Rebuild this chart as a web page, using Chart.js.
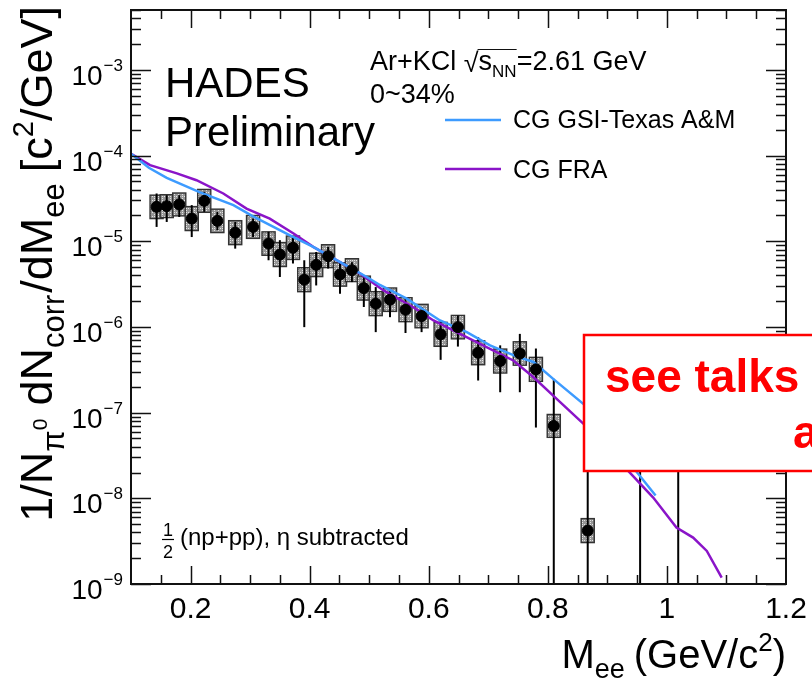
<!DOCTYPE html>
<html>
<head>
<meta charset="utf-8">
<script src="https://cdn.jsdelivr.net/npm/chart.js@4.4.1/dist/chart.umd.min.js"></script>
<style>
  html, body { margin: 0; padding: 0; background: #fff; }
  #wrap { width: 812px; height: 682px; }
</style>
</head>
<body>
<div id="wrap"><canvas id="chart" width="812" height="682"></canvas></div>
<script>
// Messpunkte (Ar+KCl, 0-34%)
const massPts  = [0.143, 0.160, 0.181, 0.202, 0.223, 0.245, 0.275, 0.305, 0.331, 0.350,
                  0.372, 0.391, 0.411, 0.431, 0.451, 0.471, 0.491, 0.511, 0.535, 0.561,
                  0.588, 0.620, 0.649, 0.683, 0.720, 0.753, 0.780, 0.810, 0.867, 0.955, 1.019];
const yieldPts = [2.52e-5, 2.57e-5, 2.69e-5, 1.84e-5, 2.96e-5, 1.73e-5, 1.26e-5, 1.47e-5, 9.4e-6, 7.0e-6,
                  8.4e-6, 3.56e-6, 5.3e-6, 6.7e-6, 4.1e-6, 4.6e-6, 2.84e-6, 1.87e-6, 2.08e-6, 1.59e-6,
                  1.34e-6, 8.2e-7, 9.95e-7, 5.0e-7, 4.0e-7, 4.9e-7, 3.2e-7, 7.0e-8, 4.2e-9, 1.5e-7, 8.0e-8];
const statHi   = [3.61e-5, 3.45e-5, 3.45e-5, 2.64e-5, 3.78e-5, 2.2e-5, 1.68e-5, 1.84e-5, 1.29e-5, 1.03e-5,
                  1.12e-5, 6.0e-6, 7.5e-6, 8.6e-6, 5.7e-6, 5.7e-6, 4.0e-6, 2.92e-6, 2.67e-6, 2.23e-6,
                  1.71e-6, 1.19e-6, 1.36e-6, 7.6e-7, 6.1e-7, 8.3e-7, 5.6e-7, 2.48e-7, 3.0e-7, 4.0e-7, 2.5e-7];
const statLo   = [1.47e-5, 1.68e-5, 1.92e-5, 1.12e-5, 2.2e-5, 1.35e-5, 8.2e-6, 1.12e-5, 6.0e-6, 3.83e-6,
                  5.5e-6, 9.95e-7, 3.05e-6, 4.8e-6, 2.44e-6, 3.34e-6, 1.71e-6, 8.7e-7, 1.3e-6, 8.5e-7,
                  8.7e-7, 4.13e-7, 5.9e-7, 2.37e-7, 1.73e-7, 1.73e-7, 6.7e-8, 1e-10, 1e-10, 1e-10, 1e-10];
// systematische Unsicherheit als Faktor (Kasten von y/f bis y*f)
const sysFactor = [1.37, 1.36, 1.36, 1.38, 1.36, 1.37, 1.38, 1.36, 1.37, 1.38,
                   1.37, 1.38, 1.37, 1.36, 1.37, 1.36, 1.38, 1.38, 1.37, 1.38,
                   1.37, 1.38, 1.37, 1.38, 1.38, 1.37, 1.38, 1.36, 1.38, 1.38, 1.38];

// Modellkurven
const gsiMass  = [0.101, 0.130, 0.160, 0.216, 0.272, 0.305, 0.367, 0.406, 0.440, 0.496, 0.518,
                  0.563, 0.619, 0.664, 0.703, 0.748, 0.776, 0.809, 0.860, 0.904, 0.949, 0.981];
const gsiYield = [1.04e-4, 7.2e-5, 5.5e-5, 3.72e-5, 2.64e-5, 1.95e-5, 1.17e-5, 8.6e-6, 6.3e-6, 3.83e-6, 3.09e-6,
                  2.14e-6, 1.19e-6, 8.7e-7, 6.1e-7, 4.5e-7, 3.9e-7, 2.48e-7, 1.26e-7, 5.0e-8, 2.04e-8, 1.08e-8];
const fraMass  = [0.101, 0.132, 0.177, 0.210, 0.255, 0.294, 0.333, 0.373, 0.406, 0.440, 0.485, 0.524,
                  0.574, 0.608, 0.641, 0.686, 0.742, 0.776, 0.809, 0.860, 0.904, 0.935, 0.977, 1.016,
                  1.044, 1.067, 1.092];
const fraYield = [1.04e-4, 7.74e-5, 6.19e-5, 5.16e-5, 3.61e-5, 2.41e-5, 1.84e-5, 1.23e-5, 8.6e-6, 6.3e-6, 4.19e-6, 2.67e-6,
                  1.70e-6, 1.19e-6, 9.1e-7, 6.35e-7, 4.06e-7, 2.59e-7, 1.58e-7, 7.4e-8, 4.0e-8, 2.09e-8, 1.02e-8, 4.56e-9,
                  3.48e-9, 2.43e-9, 1.19e-9];

const xMajor = [0.2, 0.4, 0.6, 0.8, 1.0, 1.2];
const xMajorLabels = ['0.2', '0.4', '0.6', '0.8', '1', '1.2'];
const yDecades = [-9, -8, -7, -6, -5, -4, -3];

const FONT = '"Liberation Sans", Arial, Helvetica, sans-serif';
const BOX_HALF = 0.011;

function toXY(xs, ys) { return xs.map((x, i) => ({ x: x, y: ys[i] })); }

// Text mit Hoch-/Tiefstellung nacheinander zeichnen
function richWidth(ctx, parts) {
  let w = 0;
  parts.forEach(p => {
    ctx.font = (p.bold ? 'bold ' : '') + p.size + 'px ' + FONT;
    w += ctx.measureText(p.t).width + (p.gap || 0);
  });
  return w;
}
function drawRich(ctx, parts, x, y, align) {
  let cx = align === 'right' ? x - richWidth(ctx, parts) : x;
  parts.forEach(p => {
    ctx.font = (p.bold ? 'bold ' : '') + p.size + 'px ' + FONT;
    ctx.fillText(p.t, cx, y + (p.dy || 0));
    cx += ctx.measureText(p.t).width + (p.gap || 0);
  });
}

function hatchPattern(ctx) {
  const c = document.createElement('canvas');
  c.width = 4; c.height = 4;
  const g = c.getContext('2d');
  g.fillStyle = '#969696';
  g.fillRect(0, 0, 4, 4);
  g.fillStyle = '#e4e4e4';
  g.fillRect(0, 0, 1, 1);
  g.fillRect(2, 2, 1, 1);
  g.fillRect(2, 0, 1, 1);
  return ctx.createPattern(c, 'repeat');
}

const errorPlugin = {
  id: 'errors',
  beforeDatasetsDraw(chart) {
    const { ctx, chartArea: a, scales: { x, y } } = chart;
    ctx.save();
    ctx.beginPath();
    ctx.rect(a.left, a.top, a.right - a.left, a.bottom - a.top);
    ctx.clip();
    const pat = hatchPattern(ctx);
    massPts.forEach((m, i) => {
      const x0 = x.getPixelForValue(m - BOX_HALF), x1 = x.getPixelForValue(m + BOX_HALF);
      const yt = y.getPixelForValue(yieldPts[i] * sysFactor[i]);
      const yb = y.getPixelForValue(yieldPts[i] / sysFactor[i]);
      ctx.fillStyle = pat;
      ctx.fillRect(x0, yt, x1 - x0, yb - yt);
      ctx.strokeStyle = '#333';
      ctx.lineWidth = 1.4;
      ctx.strokeRect(x0, yt, x1 - x0, yb - yt);
    });
    ctx.strokeStyle = '#000';
    ctx.lineWidth = 2;
    massPts.forEach((m, i) => {
      const px = x.getPixelForValue(m);
      ctx.beginPath();
      ctx.moveTo(px, y.getPixelForValue(statHi[i]));
      ctx.lineTo(px, Math.min(y.getPixelForValue(statLo[i]), a.bottom + 5));
      ctx.stroke();
    });
    ctx.restore();
  }
};

const framePlugin = {
  id: 'frame',
  afterDraw(chart) {
    const { ctx, chartArea: a, scales: { x, y } } = chart;
    ctx.save();
    ctx.strokeStyle = '#111';
    ctx.fillStyle = '#000';

    // Achsenstriche nach innen
    ctx.lineWidth = 1.5;
    ctx.beginPath();
    for (let v = 0.15; v < 1.2; v += 0.05) {
      const major = Math.abs(v / 0.2 - Math.round(v / 0.2)) < 1e-6;
      const len = major ? 18 : 9;
      const px = Math.round(x.getPixelForValue(v)) + 0.5;
      ctx.moveTo(px, a.bottom); ctx.lineTo(px, a.bottom - len);
      ctx.moveTo(px, a.top); ctx.lineTo(px, a.top + len);
    }
    yDecades.forEach(d => {
      for (let m = 1; m <= 9; m++) {
        const v = m * Math.pow(10, d);
        if (v < 1e-9 * 0.999 || v > y.max) continue;
        const len = m === 1 ? 20 : 10;
        const py = Math.round(y.getPixelForValue(v)) + 0.5;
        ctx.moveTo(a.left, py); ctx.lineTo(a.left + len, py);
        ctx.moveTo(a.right, py); ctx.lineTo(a.right - len, py);
      }
    });
    ctx.stroke();

    ctx.lineWidth = 2;
    ctx.strokeRect(a.left, a.top, a.right - a.left, a.bottom - a.top);

    // x-Beschriftung
    ctx.textAlign = 'center';
    ctx.font = '30px ' + FONT;
    xMajor.forEach((v, i) => ctx.fillText(xMajorLabels[i], x.getPixelForValue(v), a.bottom + 34));

    // y-Beschriftung 10^n
    ctx.textAlign = 'left';
    yDecades.forEach(d => {
      const py = y.getPixelForValue(Math.pow(10, d));
      ctx.font = '17px ' + FONT;
      const sup = '\u2212' + Math.abs(d);
      const sw = ctx.measureText(sup).width;
      ctx.fillText(sup, a.left - 8 - sw, py + 1);
      ctx.font = '28px ' + FONT;
      const bw = ctx.measureText('10').width;
      ctx.fillText('10', a.left - 9 - sw - bw, py + 15);
    });

    // Achsentitel
    drawRich(ctx, [
      { t: 'M', size: 40 },
      { t: 'ee', size: 27, dy: 10, gap: 9 },
      { t: '(GeV/c', size: 40 },
      { t: '2', size: 26, dy: -17 },
      { t: ')', size: 40 }
    ], a.right, 668, 'right');

    ctx.save();
    ctx.translate(52, 6);
    ctx.rotate(-Math.PI / 2);
    drawRich(ctx, [
      { t: '1/N', size: 45 },
      { t: '\u03c0', size: 31, dy: 12 },
      { t: '0', size: 21, dy: -5, gap: 13 },
      { t: 'dN', size: 45 },
      { t: 'corr', size: 31, dy: 12, gap: 2 },
      { t: '/dM', size: 45 },
      { t: 'ee', size: 31, dy: 12, gap: 11 },
      { t: '[c', size: 45 },
      { t: '2', size: 29, dy: -19 },
      { t: '/GeV]', size: 45 }
    ], 0, 0, 'right');
    ctx.restore();

    // HADES Schriftzug
    ctx.font = '42px ' + FONT;
    ctx.fillText('HADES', 165, 97);
    ctx.fillText('Preliminary', 165, 146);

    // Systeminfo
    const x0 = 370;
    const pre = [{ t: 'Ar+KCl ', size: 27 }];
    drawRich(ctx, pre, x0, 70);
    const sx = x0 + richWidth(ctx, pre);
    ctx.font = '27px ' + FONT;
    ctx.fillText('\u221a', sx, 72);
    const rw = ctx.measureText('\u221a').width;
    const inner = [{ t: 's', size: 27 }, { t: 'NN', size: 17, dy: 7 }];
    const iw = richWidth(ctx, inner);
    drawRich(ctx, inner, sx + rw, 70);
    ctx.lineWidth = 1.2;
    ctx.beginPath();
    ctx.moveTo(sx + rw - 1, 49.5); ctx.lineTo(sx + rw + iw, 49.5);
    ctx.stroke();
    ctx.font = '27px ' + FONT;
    ctx.fillText('=2.61 GeV', sx + rw + iw, 70);
    ctx.fillText('0~34%', x0, 103);

    // Legende
    ctx.lineWidth = 2.5;
    ctx.strokeStyle = '#3d9bff';
    ctx.beginPath(); ctx.moveTo(445, 120); ctx.lineTo(501, 120); ctx.stroke();
    ctx.strokeStyle = '#8a14c8';
    ctx.beginPath(); ctx.moveTo(445, 169); ctx.lineTo(501, 169); ctx.stroke();
    ctx.font = '25px ' + FONT;
    ctx.fillText('CG GSI-Texas A&M', 513, 128);
    ctx.fillText('CG FRA', 513, 178);

    // Zusatz unten links
    ctx.font = '18px ' + FONT;
    ctx.textAlign = 'center';
    ctx.fillText('1', 168, 536);
    ctx.fillText('2', 168, 558);
    ctx.lineWidth = 1.2;
    ctx.strokeStyle = '#000';
    ctx.beginPath(); ctx.moveTo(162, 539.5); ctx.lineTo(174, 539.5); ctx.stroke();
    ctx.textAlign = 'left';
    ctx.font = '24px ' + FONT;
    ctx.fillText('(np+pp), \u03b7 subtracted', 180, 545);

    // roter Hinweiskasten
    ctx.fillStyle = '#fff';
    ctx.fillRect(584, 335, 240, 136);
    ctx.strokeStyle = '#ff0000';
    ctx.lineWidth = 2.5;
    ctx.strokeRect(584, 335, 240, 136);
    ctx.fillStyle = '#ff0000';
    ctx.font = 'bold 46px ' + FONT;
    ctx.fillText('see talks by', 605, 392);
    ctx.fillText('and', 793, 448);
    ctx.restore();
  }
};

Chart.defaults.font.family = FONT;

new Chart(document.getElementById('chart'), {
  type: 'scatter',
  data: {
    datasets: [
      {
        label: 'data',
        data: toXY(massPts, yieldPts),
        backgroundColor: '#000',
        borderColor: '#000',
        pointRadius: 5.5,
        pointHoverRadius: 5.5,
        order: 0
      },
      {
        label: 'CG GSI-Texas A&M',
        data: toXY(gsiMass, gsiYield),
        showLine: true,
        borderColor: '#3d9bff',
        borderWidth: 2.5,
        pointRadius: 0,
        tension: 0,
        order: 1
      },
      {
        label: 'CG FRA',
        data: toXY(fraMass, fraYield),
        showLine: true,
        borderColor: '#8a14c8',
        borderWidth: 2.5,
        pointRadius: 0,
        tension: 0,
        order: 2
      }
    ]
  },
  options: {
    responsive: false,
    animation: false,
    devicePixelRatio: 1,
    layout: { padding: { left: 131, top: 10, right: 26, bottom: 98 } },
    plugins: { legend: { display: false }, tooltip: { enabled: false } },
    scales: {
      x: { type: 'linear', min: 0.1, max: 1.2, display: false },
      y: { type: 'logarithmic', min: 1e-9, max: 5e-3, display: false }
    }
  },
  plugins: [errorPlugin, framePlugin]
});
</script>
</body>
</html>
